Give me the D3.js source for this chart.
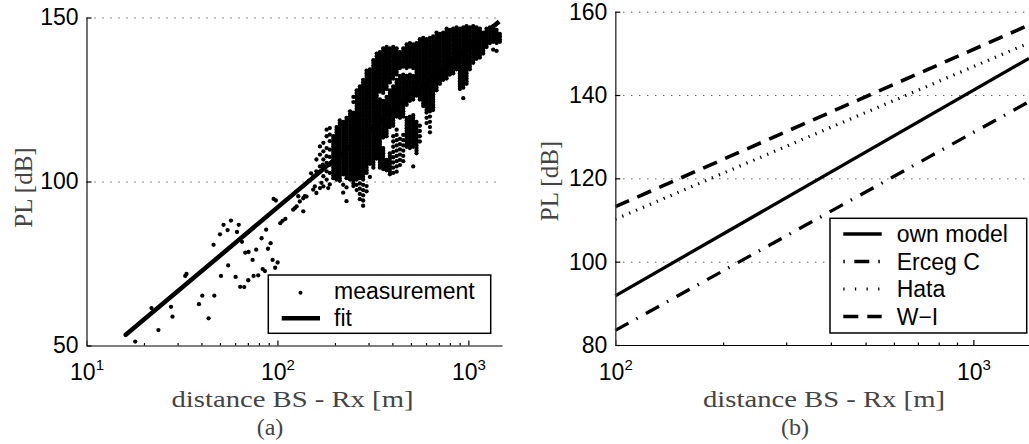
<!DOCTYPE html>
<html><head><meta charset="utf-8">
<script src="https://cdn.jsdelivr.net/npm/d3@7"></script>
<style>body{margin:0;background:#fff}svg{display:block}</style>
</head><body>
<svg id="chart" width="1029" height="444"></svg>
<script>
// ---------------- DATA ----------------
// (a) measurements: isolated points [distance m, PL dB]
const measSparse = [
[16,53.2],[18,51.2],[23.8,54.7],[21.9,61.4],[28.2,58.8],[27.7,61.8],[32.9,71.2],[33.4,71.8],[43.6,58.3],[38.8,62.6],
[40.4,65.2],[46.7,65.2],[46.3,80.7],[50.6,71.2],[50.0,83.9],[52.2,86.8],[54.8,85.2],[57.1,88.1],[61.4,84.6],[62.7,86.8],
[65.2,81.6],[55.2,74.4],[60.4,70.9],[63.8,67.9],[67.0,67.8],[70.3,69.9],[67.8,78.3],[70.6,78.5],[74.1,76.1],[75.0,71.2],
[79.3,71.4],[77.4,79.2],[82.6,82.7],[87.3,85.3],[83.7,73.3],[86.0,72.7],[89.2,79.5],[92.1,81.2],[94.3,76.1],[100.2,75.3],
[97.3,73.7],[95.5,94.7],[98.1,94.2],[103.5,87.3],[106.4,88.0],[110,88.6],[121,91.4],[126,92.4],[131,93.9],[136.5,94.9],
[142,95.4],[154,97.5],[160,96.5],[167,98.0],[123.5,91.9],[128.5,95.5],[139,95.5],[157,98.5],[170,99.6],[174,98.5],
[184.5,98.0],[136.5,90.9],[154,101.5],[146,100.2],[150,102.5],[167,103.0],[173,105.1]
];
// (a) measurements: dense cloud, read column by column [distance m, [PL dB ...]]
const measColumns = [
[160,[106.7,103.1]],
[167,[110.7,108.2,104.6]],
[174,[111.8,109.2,106.7,104.1,101.6]],
[181,[115.8,113.8,110.2,107.7,105.7,103.1,100.6]],
[188,[116.3,114.3,112.3,109.7,107.5,105.1,102.6,99.1]],
[196,[113.8,113.0,112.2,111.4,110.6,109.8,109.0,108.2,107.4,106.6,105.8,105.0,104.2,103.4,102.6,101.8,101.0]],
[204,[116.6,115.8,115.0,114.2,113.4,112.6,111.8,111.0,110.2,109.4,108.6,107.8,107.0,106.2,105.4,104.6,103.8,103.0,102.2,101.4,100.6]],
[212,[118.6,117.8,117.0,116.2,115.4,114.6,113.8,113.0,112.2,111.4,110.6,109.8,109.0,108.2,107.4,106.6,105.8,105.0,104.2,103.4,102.6,101.8,101.0,100.2]],
[221,[118.2,117.4,116.6,115.8,115.0,114.2,113.4,112.6,111.8,111.0,110.2,109.4,108.6,107.8,107.0,106.2,105.4,104.6,103.8,103.0,102.2,99.0,96.6]],
[230,[119.4,118.6,117.8,117.0,116.2,115.4,114.6,113.8,113.0,112.2,111.4,110.6,109.8,109.0,108.2,107.4,106.6,105.8,105.0,104.2,103.4,102.6,101.8,101.0,98.2,94.0]],
[240,[121.4,120.6,119.8,119.0,118.2,117.4,116.6,115.8,115.0,114.2,113.4,112.6,111.8,111.0,110.2,109.4,108.6,107.8,107.0,106.2,105.4,104.6,103.8,103.0,102.2,101.4,100.6]],
[250,[125.8,124.2,121.0,120.2,119.4,118.6,117.8,117.0,116.2,115.4,114.6,113.8,113.0,112.2,111.4,110.6,109.8,109.0,108.2,107.4,106.6,105.8,105.0,104.2,103.4,102.6,101.8,101.0,100.2,99.4,98.6]],
[260,[127.8,127.0,126.2,125.4,124.6,123.8,123.0,122.2,121.4,120.6,119.8,119.0,118.2,117.4,116.6,115.8,115.0,114.2,113.4,112.6,111.8,111.0,110.2,109.4,108.6,107.8,107.0,106.2,105.4,104.6,103.8,103.0,102.2,101.4,100.6,99.0,97.4]],
[270,[129.0,128.2,127.4,126.6,125.8,125.0,124.2,123.4,122.6,121.8,121.0,120.2,119.4,118.6,117.8,117.0,116.2,115.4,114.6,113.8,113.0,112.2,111.4,110.6,109.8,109.0,108.2,107.4,106.6,105.8,105.0,104.2,103.4,102.6,101.8,101.0,99.4,97.8,96.2,94.6]],
[281,[131.0,130.2,129.4,128.6,127.8,127.0,126.2,125.4,124.6,123.8,123.0,122.2,121.4,120.6,119.8,119.0,118.2,117.4,116.6,115.8,115.0,114.2,113.4,112.6,111.8,111.0,110.2,109.4,108.6,107.8,107.0,106.2,105.4,104.6,103.8,103.0,102.2,101.4,100.6,99.0,97.4,95.8,94.2,92.6]],
[293,[133.8,133.0,132.2,131.4,130.6,129.8,129.0,128.2,127.4,126.6,125.8,125.0,124.2,123.4,122.6,121.8,121.0,120.2,119.4,118.6,117.8,117.0,116.2,115.4,114.6,113.8,113.0,112.2,111.4,110.6,109.8,109.0,108.2,107.4,106.6,105.8,105.0,104.2,103.4,102.6,98.6,97.0]],
[305,[134.2,133.4,132.6,131.8,131.0,130.2,129.4,128.6,127.8,127.0,126.2,125.4,124.6,123.8,123.0,122.2,121.4,120.6,119.8,119.0,118.2,117.4,116.6,115.8,115.0,114.2,113.4,112.6,111.8,111.0,110.2,109.4,108.6,107.8,107.0,106.2,105.4,101.4]],
[318,[137.0,136.2,135.4,134.6,133.8,133.0,132.2,131.4,130.6,129.8,129.0,128.2,127.4,126.6,125.8,125.0,124.2,123.4,122.6,121.8,121.0,120.2,119.4,118.6,117.8,117.0,116.2,115.4,114.6,113.8,113.0,112.2,111.4,110.6,109.8,109.0,108.2,107.4,106.6,105.8,105.0,104.2]],
[331,[139.0,138.2,137.4,136.6,135.8,135.0,134.2,133.4,132.6,131.8,131.0,130.2,129.4,128.6,127.8,127.0,126.2,125.4,124.6,123.8,123.0,122.2,121.4,120.6,119.8,119.0,118.2,117.4,116.6,115.8,115.0,114.2,113.4,112.6,111.8,111.0,110.2,109.4,108.6,107.8,107.0]],
[344,[139.4,138.6,137.8,137.0,136.2,135.4,134.6,133.8,133.0,132.2,131.4,130.6,129.8,129.0,128.2,127.4,125.0,124.2,123.4,122.6,121.8,121.0,120.2,119.4,118.6,117.8,117.0,116.2,115.4,114.6,113.8,113.0,112.2,111.4,110.6,109.8,109.0,108.2,107.4,106.6,105.8,105.0,104.2]],
[358,[140.6,139.8,139.0,138.2,137.4,136.6,135.8,135.0,134.2,133.4,132.6,131.8,131.0,130.2,129.4,128.6,127.8,127.0,124.6,123.8,123.0,122.2,121.4,120.6,119.8,119.0,118.2,117.4,116.6,115.8,115.0,114.2,113.4,110.2,109.4,108.6,107.8,107.0,106.2,105.4,104.6,103.8]],
[373,[141.0,140.2,139.4,138.6,137.8,137.0,136.2,135.4,134.6,133.8,133.0,132.2,131.4,130.6,129.8,129.0,128.2,125.8,125.0,124.2,123.4,122.6,121.8,121.0,120.2,119.4,118.6,117.8,117.0,116.2,115.4,114.6,113.8,106.6,105.8,105.0,104.2,103.4]],
[388,[140.6,139.8,139.0,138.2,137.4,136.6,135.8,135.0,134.2,133.4,132.6,131.8,131.0,130.2,127.8,127.0,126.2,125.4,124.6,123.8,123.0,122.2,121.4,120.6,119.8,119.0,118.2,117.4,116.6,108.6,107.8,107.0,106.2,105.4,104.6,103.8,103.0,102.2]],
[404,[141.0,140.2,139.4,138.6,137.8,137.0,136.2,135.4,134.6,133.8,133.0,132.2,131.4,129.0,128.2,127.4,126.6,125.8,125.0,124.2,123.4,122.6,121.8,121.0,120.2,119.4,118.6,117.8,117.0,113.8,112.2,110.6,109.0,107.4,105.8,104.2,102.6]],
[421,[140.6,139.8,139.0,138.2,137.4,136.6,135.8,135.0,134.2,133.4,132.6,131.0,130.2,129.4,128.6,127.8,127.0,126.2,125.4,124.6,123.8,123.0,122.2,121.4,120.6,119.8,115.8,114.2,112.6,111.0,109.4,107.8,106.2,104.6,103.0]],
[438,[139.4,138.6,137.8,137.0,136.2,135.4,134.6,132.2,131.4,130.6,129.8,129.0,128.2,127.4,126.6,125.8,125.0,124.2,123.4,122.6,121.8,121.0,120.2,119.4,113.0,111.4,109.8,108.2,106.6,105.0]],
[456,[140.6,139.8,139.0,138.2,137.4,136.6,135.8,135.0,132.6,131.8,131.0,130.2,129.4,128.6,127.8,127.0,126.2,125.4,124.6,123.8,123.0,122.2,121.4,120.6,119.8,114.2,112.6,111.0,109.4,107.8,106.2]],
[475,[141.8,141.0,140.2,139.4,138.6,137.8,137.0,136.2,135.4,134.6,132.2,131.4,130.6,129.8,129.0,128.2,127.4,126.6,125.8,125.0,124.2,123.4,119.4,118.6,117.8,117.0,116.2,115.4,114.6,113.8,113.0,112.2,111.4,110.6]],
[494,[142.2,141.4,140.6,139.8,139.0,138.2,137.4,136.6,135.8,135.0,132.6,131.8,131.0,130.2,129.4,128.6,127.8,127.0,126.2,125.4,124.6,119.8,119.0,118.2,117.4,116.6,115.8,115.0,114.2,113.4,112.6,111.8,111.0,110.2]],
[514,[141.8,141.0,140.2,139.4,138.6,137.8,137.0,136.2,135.4,134.6,132.2,131.4,130.6,129.8,129.0,128.2,127.4,126.6,125.8,125.0,120.2,119.4,118.6,117.8,117.0,116.2,115.4,114.6,113.8,113.0,112.2,111.4,110.6,104.6]],
[535,[142.2,141.4,140.6,139.8,139.0,138.2,137.4,136.6,135.8,135.0,134.2,133.4,132.6,131.8,131.0,130.2,129.4,128.6,127.8,127.0,126.2,118.2,117.4,116.6,115.8,115.0,114.2,113.4,112.6,111.8,111.0,110.2,109.4,108.6]],
[557,[143.4,142.6,141.8,141.0,140.2,139.4,138.6,137.8,137.0,136.2,135.4,134.6,133.8,133.0,132.2,131.4,130.6,129.8,129.0,128.2,127.4,126.6,125.8,125.0,117.0,115.4,113.8,112.2]],
[580,[143.8,143.0,142.2,141.4,140.6,139.8,139.0,138.2,137.4,136.6,135.8,135.0,134.2,133.4,132.6,131.8,131.0,130.2,129.4,128.6,127.8,127.0,126.2,125.4,124.6,123.8,123.0]],
[604,[143.4,142.6,141.8,141.0,140.2,139.4,138.6,137.8,137.0,136.2,135.4,134.6,133.8,133.0,132.2,131.4,130.6,129.8,129.0,128.2,127.4,126.6,125.8,125.0,124.2,123.4,122.6,121.8,121.0,119.4,117.8]],
[629,[143.8,143.0,142.2,141.4,140.6,139.8,139.0,138.2,137.4,136.6,135.8,135.0,134.2,133.4,132.6,131.8,131.0,130.2,129.4,128.6,127.8,127.0,126.2,125.4,124.6,123.8,123.0,122.2,121.4,119.8,118.2,116.6,115.0]],
[654,[144.2,143.4,142.6,141.8,141.0,140.2,139.4,138.6,137.8,137.0,136.2,135.4,134.6,133.8,133.0,132.2,131.4,130.6,129.8,129.0,128.2,127.4,126.6,125.8,125.0,124.2,123.4,122.6,121.8]],
[681,[145.4,144.6,143.8,143.0,142.2,141.4,140.6,139.8,139.0,138.2,137.4,136.6,135.8,135.0,134.2,133.4,132.6,131.8,131.0,130.2,129.4,128.6,127.8]],
[709,[145.0,144.2,143.4,142.6,141.8,141.0,140.2,139.4,138.6,137.8,137.0,136.2,135.4,134.6,133.8,133.0,132.2,131.4,130.6,129.8]],
[738,[145.4,144.6,143.8,143.0,142.2,141.4,140.6,139.8,139.0,138.2,137.4,136.6,135.8,135.0,134.2,133.4,132.6,131.8,131.0]],
[769,[146.6,145.8,145.0,144.2,143.4,142.6,141.8,141.0,140.2,139.4,138.6,137.8,137.0,136.2,135.4,134.6,133.8,133.0,132.2,131.4]],
[800,[146.2,145.4,144.6,143.8,143.0,142.2,141.4,140.6,139.8,139.0,138.2,137.4,136.6,135.8,135.0,134.2,133.4,132.6]],
[833,[146.6,145.8,145.0,144.2,143.4,142.6,141.8,141.0,140.2,139.4,138.6,137.8,137.0,136.2,135.4,134.6,133.8,133.0]],
[867,[147.0,146.2,145.4,144.6,143.8,143.0,142.2,141.4,140.6,139.8,139.0,138.2,137.4,136.6,135.8,135.0,134.2]],
[903,[146.6,145.8,145.0,144.2,143.4,142.6,141.8,141.0,140.2,139.4,138.6,137.8,137.0,136.2,135.4,134.6,133.8,133.0,132.2,131.4,130.6,129.8,129.0,128.2]],
[940,[147.0,146.2,145.4,144.6,143.8,143.0,142.2,141.4,140.6,139.8,139.0,138.2,137.4,136.6,135.8,135.0,134.2,133.4,132.6,131.8,131.0,130.2,129.4,128.6,125.4]],
[978,[147.4,146.6,145.8,145.0,144.2,143.4,142.6,141.8,141.0,140.2,139.4,138.6,137.8,137.0,136.2,135.4,134.6,133.8,133.0,132.2,131.4,130.6,129.8]],
[1018,[147.0,146.2,145.4,144.6,143.8,143.0,142.2,141.4,140.6,139.8,139.0,138.2,137.4,136.6,135.8,135.0,134.2]],
[1060,[147.4,146.6,145.8,145.0,144.2,143.4,142.6,141.8,141.0,140.2,139.4,138.6,137.8,137.0,136.2]],
[1104,[147.0,146.2,145.4,144.6,143.8,143.0,142.2,141.4,140.6,139.8,139.0,138.2,137.4]],
[1149,[146.6,145.8,145.0,144.2,143.4,142.6,141.8,141.0,140.2,139.4,138.6,137.8]],
[1196,[145.4,144.6,143.8,143.0,142.2,141.4,140.6,139.8,139.0]],
[1245,[146.6,145.8,145.0,144.2,143.4,142.6,141.8,141.0]],
[1296,[147.0,146.2,145.4,144.6,143.8,143.0,142.2]],
[1349,[147.4,146.6,145.8,145.0,144.2,143.4,142.6,140.2]],
[1405,[146.2,145.4,144.6,143.8,143.0,142.2,139.8]],
[1462,[145.0,144.2,143.4,142.6]]
];
// (a) fit
const fitDist = [16, 1450];
const fitPL = [53.2, 148.8];
// (b) models
const modelDist = [100, 1430];
const ownModel = [91.8, 148.8];
const ercegC = [83.5, 138.4];
const hata = [110.2, 152.5];
const walfischIkegami = [113.2, 156.8];
// ticks / labels
const xMajorA = [10, 100, 1000];
const xMinorA = [20,30,40,50,60,70,80,90,200,300,400,500,600,700,800,900];
const yTicksA = [50, 100, 150];
const gridA = [100, 150];
const xMajorB = [100, 1000];
const xMinorB = [200,300,400,500,600,700,800,900];
const yTicksB = [80, 100, 120, 140, 160];
const gridB = [100, 120, 140, 160];
const legendA = ["measurement", "fit"];
const legendB = ["own model", "Erceg C", "Hata", "W\u2212I"];
const xLabel = "distance BS - Rx [m]";
const yLabel = "PL [dB]";
const panelTags = ["(a)", "(b)"];

// ---------------- DRAW ----------------
const svg = d3.select("#chart");
const SANS = "'Liberation Sans', Arial, Helvetica, sans-serif";
const SERIF = "'Liberation Serif', 'Times New Roman', serif";

const xa = d3.scaleLog().domain([10, 1500]).range([86.5, 502]);
const ya = d3.scaleLinear().domain([50, 150]).range([345.5, 17.5]);
const xb = d3.scaleLog().domain([100, 1430]).range([615.3, 1029]);
const yb = d3.scaleLinear().domain([80, 160]).range([345, 11.7]);

function supLabel(sel) {
  sel.selectAll(".tick text").each(function(d) {
    const t = d3.select(this);
    t.text(null).attr("y", 34.5).attr("dy", null);
    t.append("tspan").text("10");
    t.append("tspan").attr("dy", -10).attr("font-size", 15).text(String(Math.round(Math.log10(d))));
  });
}

function drawGrid(x, y, grid) {
  const [x0, x1] = x.range();
  svg.append("g").attr("transform", `translate(${x0},0)`)
    .call(d3.axisLeft(y).tickValues(grid).tickSize(-(x1 - x0)).tickFormat(""))
    .call(s => s.select(".domain").remove())
    .selectAll("line").attr("stroke", "#222").attr("stroke-width", 1).attr("stroke-dasharray", "1,7");
}

function drawAxes(x, y, xMajor, xMinor, yTicks) {
  const [x0] = x.range();
  const y0 = y.range()[0];
  const g = svg.append("g");
  g.append("g").attr("transform", `translate(0,${y0})`)
    .call(d3.axisBottom(x).tickValues(xMinor).tickSize(-2.5).tickSizeOuter(0).tickFormat(""))
    .call(s => s.selectAll("line,path").attr("stroke", "#000").attr("stroke-width", 1.2));
  g.append("g").attr("transform", `translate(0,${y0})`)
    .call(d3.axisBottom(x).tickValues(xMajor).tickSize(-5).tickSizeOuter(0))
    .call(s => s.select(".domain").remove())
    .call(s => s.selectAll("line").attr("stroke", "#000").attr("stroke-width", 1.2))
    .attr("font-family", SANS).attr("font-size", 23)
    .call(s => s.selectAll("text").attr("fill", "#000"))
    .call(supLabel);
  g.append("g").attr("transform", `translate(${x0},0)`)
    .call(d3.axisLeft(y).tickValues(yTicks).tickSize(-5).tickSizeOuter(0).tickPadding(8))
    .attr("font-family", SANS).attr("font-size", 23)
    .call(s => s.select(".domain").attr("stroke", "#444").attr("stroke-width", 1.5))
    .call(s => s.selectAll("line").attr("stroke", "#000").attr("stroke-width", 1.2))
    .call(s => s.selectAll("text").attr("fill", "#000"));
}

function labels(cx, tagX, tag, yl) {
  svg.append("text").attr("x", cx).attr("y", 407).attr("text-anchor", "middle")
    .attr("font-family", SERIF).attr("font-size", 24).attr("fill", "#444")
    .attr("textLength", 242).attr("lengthAdjust", "spacingAndGlyphs").text(xLabel);
  svg.append("text").attr("x", tagX).attr("y", 434.5).attr("text-anchor", "middle")
    .attr("font-family", SERIF).attr("font-size", 24).attr("fill", "#444").text(tag);
  svg.append("text").attr("transform", `translate(${yl[0]},${yl[1]}) rotate(-90)`)
    .attr("text-anchor", "middle").attr("font-family", SERIF).attr("font-size", 25)
    .attr("fill", "#444").text(yLabel);
}

// ----- Panel (a)
drawGrid(xa, ya, gridA);
const points = measSparse.concat(measColumns.flatMap(([d, pls]) => pls.map(p => [d, p])));
svg.append("g").selectAll("circle").data(points).join("circle")
  .attr("cx", d => xa(d[0])).attr("cy", d => ya(d[1])).attr("r", 2.15).attr("fill", "#000");
const fitData = fitDist.map((d, i) => [d, fitPL[i]]);
svg.append("path").datum(fitData)
  .attr("d", d3.line().x(d => xa(d[0])).y(d => ya(d[1])))
  .attr("fill", "none").attr("stroke", "#000").attr("stroke-width", 4.5);
drawAxes(xa, ya, xMajorA, xMinorA, yTicksA);
labels(292.5, 270, panelTags[0], [31.5, 187.5]);

// legend (a)
const lgA = svg.append("g");
lgA.append("rect").attr("x", 268.3).attr("y", 275).attr("width", 222.4).attr("height", 58.3)
  .attr("fill", "#fff").attr("stroke", "#000").attr("stroke-width", 1.5);
lgA.append("circle").attr("cx", 300.5).attr("cy", 292.7).attr("r", 2.0).attr("fill", "#000");
lgA.append("line").attr("x1", 281.7).attr("x2", 320).attr("y1", 318.3).attr("y2", 318.3)
  .attr("stroke", "#000").attr("stroke-width", 4.5);
lgA.selectAll("text").data(legendA).join("text")
  .attr("x", 334).attr("y", (d, i) => [298.5, 325.5][i])
  .attr("font-family", SANS).attr("font-size", 23).attr("fill", "#000").text(d => d);

// ----- Panel (b)
drawGrid(xb, yb, gridB);
const models = [
  {v: ownModel, dash: null, w: 3.3, ldash: null, loff: 0},
  {v: ercegC, dash: "15,9,1.5,9.5", w: 3.3, ldash: "15,9,1.5,9.5", loff: 24},
  {v: hata, dash: "1.3,6.2", w: 3.2, ldash: "1.3,10.3", loff: 0},
  {v: walfischIkegami, dash: "15,9", w: 3.6, ldash: "15,9", loff: 0}
];
const lineB = d3.line().x(d => xb(d[0])).y(d => yb(d[1]));
models.forEach(m => {
  svg.append("path").datum(modelDist.map((d, i) => [d, m.v[i]]))
    .attr("d", lineB).attr("fill", "none").attr("stroke", "#000")
    .attr("stroke-width", m.w).attr("stroke-dasharray", m.dash);
});
drawAxes(xb, yb, xMajorB, xMinorB, yTicksB);
labels(824, 795, panelTags[1], [558.3, 181]);

// legend (b)
const lgB = svg.append("g");
lgB.append("rect").attr("x", 830).attr("y", 218.3).attr("width", 196.7).attr("height", 114.7)
  .attr("fill", "#fff").attr("stroke", "#000").attr("stroke-width", 1.5);
const rowsB = [234, 261.5, 289, 316.5];
models.forEach((m, i) => {
  lgB.append("line").attr("x1", 843.3).attr("x2", 881.7).attr("y1", rowsB[i]).attr("y2", rowsB[i])
    .attr("stroke", "#000").attr("stroke-width", m.w)
    .attr("stroke-dasharray", m.ldash).attr("stroke-dashoffset", m.loff);
});
lgB.selectAll("text").data(legendB).join("text")
  .attr("x", 896.7).attr("y", (d, i) => rowsB[i] + 8.2)
  .attr("font-family", SANS).attr("font-size", 23).attr("fill", "#000").text(d => d);
</script>
</body></html>
